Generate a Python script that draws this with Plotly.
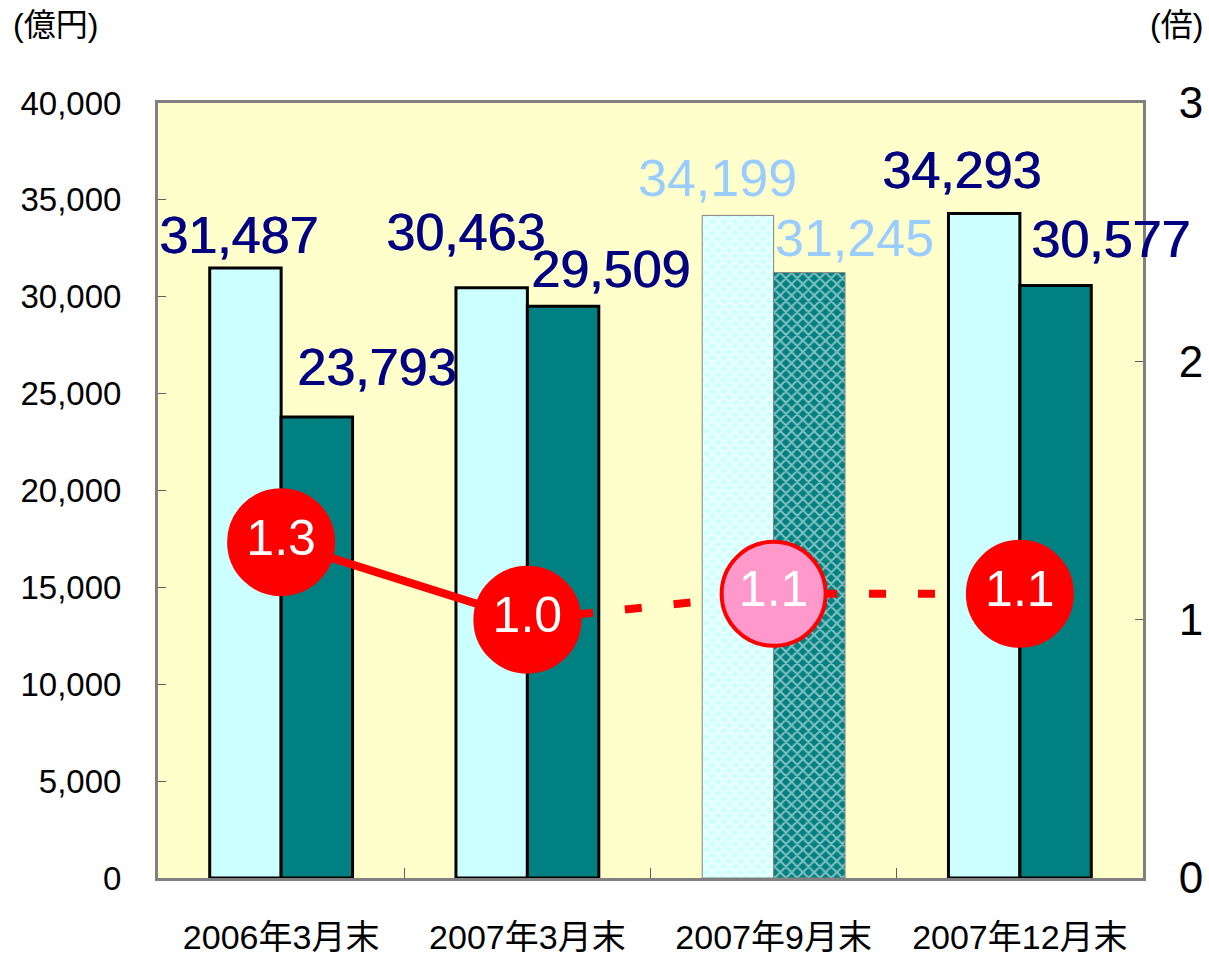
import plotly.graph_objects as go

# ---- data ----
categories = ["2006年3月末", "2007年3月末", "2007年9月末", "2007年12月末"]
series_a = [31487, 30463, 34199, 34293]      # light cyan bars
series_b = [23793, 29509, 31245, 30577]      # teal bars
ratio = [1.3, 1.0, 1.1, 1.1]                 # right axis (倍)
is_interim = [False, False, True, False]     # 2007年9月末 drawn hatched / light
left_tickvals = [0, 5000, 10000, 15000, 20000, 25000, 30000, 35000, 40000]
left_ticktext = ["0", "5,000", "10,000", "15,000", "20,000", "25,000", "30,000", "35,000", "40,000"]
right_tickvals = [0, 1, 2, 3]
right_ticktext = ["0", "1", "2", "3"]

# ---- styles ----
FONT = "Liberation Sans, Arial, Noto Sans CJK JP, sans-serif"
CYAN = "#CCFFFF"
TEAL = "#008080"
NAVY = "#000080"
LIGHTBLUE = "#99CCFF"
RED = "#FF0000"
PINK = "#FF99CC"

# label offsets (px) relative to category centre / bar top
a_xshift = [-43, -62, -56, -58]
a_yshift = [33, 56, 37, 44]
b_xshift = [95, 83, 81, 91]
b_yshift = [50, 37, 35, 47]

W, H = 1209, 955
ML, MR, MT, MB = 158, 66, 103, 77

fig = go.Figure()

def bar_trace(values, color, pat_solidity):
    return go.Bar(
        x=categories, y=values,
        marker=dict(
            color=color,
            line=dict(color=[("#808080" if f else "black") for f in is_interim],
                      width=[1 if f else 3 for f in is_interim]),
            pattern=dict(shape=[("x" if f else "") for f in is_interim],
                         fillmode="overlay",
                         fgcolor=["white"] * len(categories),
                         size=8, solidity=pat_solidity),
        ),
        hoverinfo="skip",
    )

fig.add_trace(bar_trace(series_a, CYAN, 0.65))
fig.add_trace(bar_trace(series_b, TEAL, 0.45))

# ratio line: solid for first segment, dashed afterwards
fig.add_trace(go.Scatter(x=categories[:2], y=ratio[:2], yaxis="y2", mode="lines",
                         line=dict(color=RED, width=8), hoverinfo="skip"))
fig.add_trace(go.Scatter(x=categories[1:], y=ratio[1:], yaxis="y2", mode="lines",
                         line=dict(color=RED, width=8, dash="17px,32px"), hoverinfo="skip"))
fig.add_trace(go.Scatter(
    x=categories, y=ratio, yaxis="y2", mode="markers+text",
    text=[f"{v:.1f}" for v in ratio], textposition="middle center",
    textfont=dict(family=FONT, size=50, color="white"),
    marker=dict(size=104, color=[(PINK if f else RED) for f in is_interim],
                line=dict(color=RED, width=4), opacity=1),
    hoverinfo="skip",
))

for i, c in enumerate(categories):
    col = LIGHTBLUE if is_interim[i] else NAVY
    shadow = "none" if is_interim[i] else f"1px 0px 0px {NAVY}"
    for vals, xs, ys in ((series_a, a_xshift, a_yshift), (series_b, b_xshift, b_yshift)):
        fig.add_annotation(x=c, y=vals[i], xref="x", yref="y", text=f"{vals[i]:,}",
                           showarrow=False, xshift=xs[i], yshift=ys[i],
                           yanchor="middle",
                           font=dict(family=FONT, size=52, color=col, shadow=shadow))

fig.update_layout(
    width=W, height=H,
    margin=dict(l=ML, r=MR, t=MT, b=MB),
    paper_bgcolor="white", plot_bgcolor="#FFFFCC",
    barmode="group", bargap=0.42, bargroupgap=0,
    showlegend=False,
    font=dict(family=FONT, color="black"),
    xaxis=dict(
        type="category", range=[-0.5, 3.5], automargin=False,
        showline=True, linecolor="#808080", linewidth=3, mirror=True,
        ticks="inside", tickson="boundaries", ticklen=10, tickcolor="#606060", tickwidth=1,
        tickfont=dict(family=FONT, size=34, color="black"),
        ticklabelstandoff=27, showgrid=False, zeroline=False,
    ),
    yaxis=dict(
        range=[0, 40000], tickvals=left_tickvals, ticktext=left_ticktext, automargin=False,
        showline=True, linecolor="#808080", linewidth=3, mirror=True,
        ticks="inside", ticklen=8, tickcolor="#606060", tickwidth=1,
        tickfont=dict(family=FONT, size=33, color="black"),
        ticklabelstandoff=27, showgrid=False, zeroline=False,
    ),
    yaxis2=dict(
        range=[0, 3], tickvals=right_tickvals, ticktext=right_ticktext, automargin=False,
        overlaying="y", side="right",
        showline=True, linecolor="#808080", linewidth=3,
        ticks="inside", ticklen=8, tickcolor="#606060", tickwidth=1,
        tickfont=dict(family=FONT, size=44, color="black"),
        ticklabelstandoff=24, showgrid=False, zeroline=False,
    ),
)

# unit labels placed in paper coordinates
pw, ph = W - ML - MR, H - MT - MB
def px_to_paper(x, y):
    return (x - ML) / pw, (H - MB - y) / ph

ux, uy = px_to_paper(55, 25)
fig.add_annotation(x=ux, y=uy, xref="paper", yref="paper", text="(億円)", showarrow=False,
                   xanchor="center", yanchor="middle", font=dict(family=FONT, size=32, color="black"))
ux, uy = px_to_paper(1176, 25)
fig.add_annotation(x=ux, y=uy, xref="paper", yref="paper", text="(倍)", showarrow=False,
                   xanchor="center", yanchor="middle", font=dict(family=FONT, size=32, color="black"))

fig.write_html("out.html")
